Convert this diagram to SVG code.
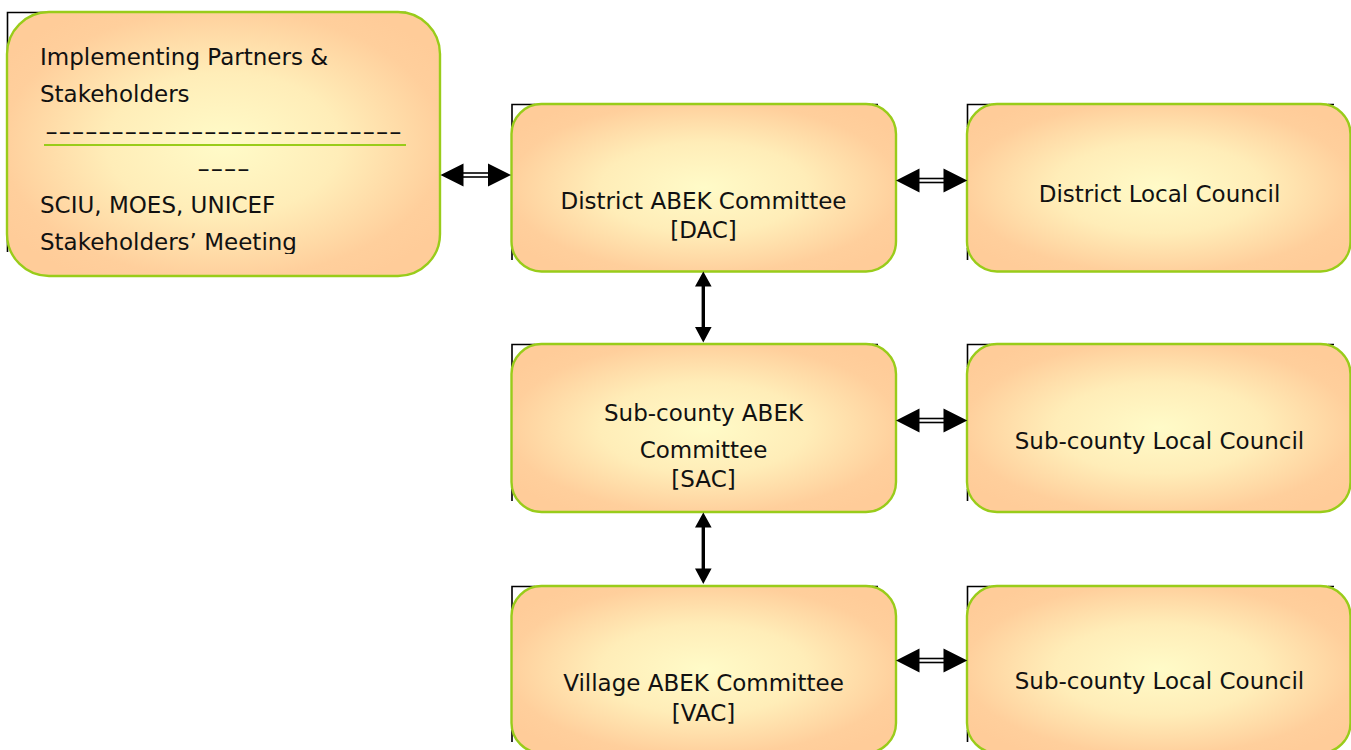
<svg xmlns="http://www.w3.org/2000/svg" width="1351" height="750" viewBox="0 0 1351 750">
<style>
.box{fill:url(#g);stroke:#99CC1A;stroke-width:2.4}
.mk{fill:none;stroke:#000;stroke-width:1.6}
.t{font-family:"DejaVu Sans",Verdana,sans-serif;font-size:23px;fill:#111}
.c{text-anchor:middle}
.head{fill:#000}
.dl{stroke:#000;stroke-width:1.6;fill:none}
.vs{stroke:#000;stroke-width:3.4;fill:none}
</style>
<defs>
<radialGradient id="g" cx="50%" cy="50%" r="60%">
<stop offset="0" stop-color="#FFFBC8"/>
<stop offset="0.45" stop-color="#FFEDB8"/>
<stop offset="0.85" stop-color="#FFCF9C"/>
<stop offset="1" stop-color="#FFCC99"/>
</radialGradient>
<clipPath id="clip1"><rect x="0" y="0" width="450" height="254"/></clipPath>
</defs>
<rect width="1351" height="750" fill="#fff"/>

<g id="n1">
<path class="mk" d="M7.5,52 V12.5 H50 M398,12.5 H406 M7.5,235 V252"/>
<rect class="box" x="7" y="12" width="433" height="264" rx="42"/>
<line x1="44" y1="145" x2="406" y2="145" stroke="#99CC1A" stroke-width="2.2"/>
<g clip-path="url(#clip1)">
<text class="t" x="40" y="65">Implementing Partners &amp;</text>
<text class="t" x="40" y="102">Stakeholders</text>
<text class="t" x="45" y="139" textLength="357" lengthAdjust="spacingAndGlyphs">---------------------------</text>
<text class="t" x="197" y="176" textLength="53" lengthAdjust="spacingAndGlyphs">----</text>
<text class="t" x="40" y="213">SCIU, MOES, UNICEF</text>
<text class="t" x="40" y="250">Stakeholders’ Meeting</text>
</g>
</g>

<g id="dac">
<path class="mk" d="M512,127 V104.5 H535 M872,104.5 H878 M512,248 V260"/>
<rect class="box" x="511.5" y="104" width="384.5" height="167.5" rx="30"/>
<text class="t c" x="703.5" y="208.5">District ABEK Committee</text>
<text class="t c" x="703.5" y="237.5">[DAC]</text>
</g>

<g id="dlc">
<path class="mk" d="M967.5,127 V104.5 H990 M1328,104.5 H1334 M967.5,248 V260"/>
<rect class="box" x="967" y="104" width="383.5" height="167.5" rx="30"/>
<text class="t c" x="1159.5" y="201.5">District Local Council</text>
</g>

<g id="sac">
<path class="mk" d="M512,367 V344.5 H535 M872,344.5 H878 M512,489 V501"/>
<rect class="box" x="511.5" y="344" width="384.5" height="168" rx="30"/>
<text class="t c" x="703.5" y="420.5">Sub-county ABEK</text>
<text class="t c" x="703.5" y="458">Committee</text>
<text class="t c" x="703.5" y="486.5">[SAC]</text>
</g>

<g id="slc">
<path class="mk" d="M967.5,367 V344.5 H990 M1328,344.5 H1334 M967.5,489 V501"/>
<rect class="box" x="967" y="344" width="383.5" height="168" rx="30"/>
<text class="t c" x="1159.5" y="448.5">Sub-county Local Council</text>
</g>

<g id="vac">
<path class="mk" d="M512,609 V586.5 H535 M872,586.5 H878 M512,730 V742"/>
<rect class="box" x="511.5" y="586" width="384.5" height="167" rx="30"/>
<text class="t c" x="703.5" y="691">Village ABEK Committee</text>
<text class="t c" x="703.5" y="721">[VAC]</text>
</g>

<g id="slc2">
<path class="mk" d="M967.5,609 V586.5 H990 M1328,586.5 H1334 M967.5,730 V742"/>
<rect class="box" x="967" y="586" width="383.5" height="167" rx="30"/>
<text class="t c" x="1159.5" y="689">Sub-county Local Council</text>
</g>

<g id="connectors">
<g id="e1">
<line class="dl" x1="462" y1="173" x2="489" y2="173"/>
<line class="dl" x1="462" y1="177" x2="489" y2="177"/>
<path class="head" d="M440.5,175 L463.5,163.5 L463.5,186.5 Z M511,175 L488,163.5 L488,186.5 Z"/>
</g>
<g id="e2">
<line class="dl" x1="918" y1="178.5" x2="945" y2="178.5"/>
<line class="dl" x1="918" y1="182.5" x2="945" y2="182.5"/>
<path class="head" d="M896,180.5 L919.5,168.5 L919.5,192.5 Z M967.3,180.5 L943.5,168.5 L943.5,192.5 Z"/>
</g>
<g id="e3">
<line class="dl" x1="918" y1="418.5" x2="945" y2="418.5"/>
<line class="dl" x1="918" y1="422.5" x2="945" y2="422.5"/>
<path class="head" d="M896,420.5 L919.5,408.5 L919.5,432.5 Z M967.3,420.5 L943.5,408.5 L943.5,432.5 Z"/>
</g>
<g id="e4">
<line class="dl" x1="918" y1="658.5" x2="945" y2="658.5"/>
<line class="dl" x1="918" y1="662.5" x2="945" y2="662.5"/>
<path class="head" d="M896,660.5 L919.5,648.5 L919.5,672.5 Z M967.3,660.5 L943.5,648.5 L943.5,672.5 Z"/>
</g>
<g id="e5">
<line class="vs" x1="703.3" y1="284" x2="703.3" y2="328"/>
<path class="head" d="M703.3,271.5 L695,286.5 L711.6,286.5 Z M703.3,342.5 L695,327 L711.6,327 Z"/>
</g>
<g id="e6">
<line class="vs" x1="703.3" y1="525" x2="703.3" y2="570"/>
<path class="head" d="M703.3,512.5 L695,527.5 L711.6,527.5 Z M703.3,584 L695,568.5 L711.6,568.5 Z"/>
</g>
</g>
</svg>
